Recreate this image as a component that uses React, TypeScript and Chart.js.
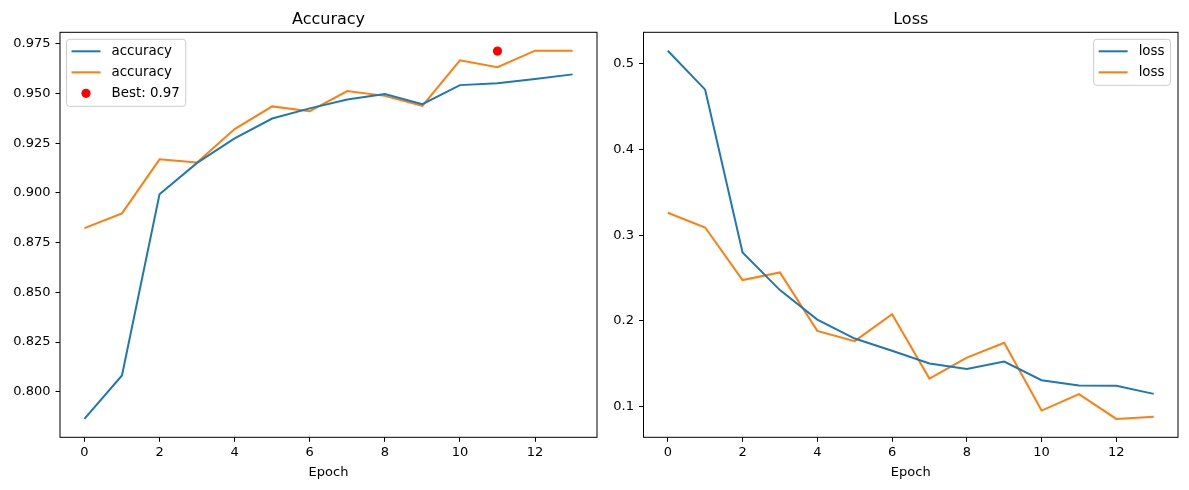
import { Chart, registerables } from "chart.js";
import { useEffect, useRef } from "react";

// Register the standard Chart.js components
Chart.register(...registerables);

Chart.defaults.font.family = "'DejaVu Sans', sans-serif";
Chart.defaults.color = "#000";

// Training history
const epochs = [0, 1, 2, 3, 4, 5, 6, 7, 8, 9, 10, 11, 12, 13];
const accuracy = [0.7864, 0.8082, 0.8993, 0.9151, 0.9274, 0.9374, 0.9425, 0.947, 0.9497, 0.9446, 0.9542, 0.9551, 0.9573, 0.9596];
const valAccuracy = [0.8823, 0.8897, 0.9169, 0.9153, 0.9321, 0.9435, 0.9411, 0.9512, 0.9488, 0.9438, 0.9667, 0.9632, 0.9715, 0.9715];
const loss = [0.5155, 0.47, 0.2799, 0.236, 0.2016, 0.1794, 0.1651, 0.1502, 0.144, 0.1526, 0.1308, 0.1245, 0.1242, 0.1148];
const valLoss = [0.3263, 0.3091, 0.2477, 0.2566, 0.1884, 0.1764, 0.2079, 0.1327, 0.1572, 0.1744, 0.0953, 0.1145, 0.0856, 0.088];
const bestEpoch = 11;
const bestValue = 0.9713;

// Tick labels
const epochTicks = [0, 2, 4, 6, 8, 10, 12];
const accuracyTicks = [0.8, 0.825, 0.85, 0.875, 0.9, 0.925, 0.95, 0.975];
const lossTicks = [0.1, 0.2, 0.3, 0.4, 0.5];

const BLUE = "#1f77b4";
const ORANGE = "#ff7f0e";

// Range with matplotlib's 5% margins
function padded(values: number[]) {
    const lo = Math.min(...values);
    const hi = Math.max(...values);
    const m = (hi - lo) * 0.05;
    return { min: lo - m, max: hi + m };
}

// Frame, title and an in-axes legend, like matplotlib draws them
const mplLook = {
    id: "mplLook",
    afterDraw(chart: any, _args: any, opts: any) {
        const { ctx, chartArea: a } = chart;
        ctx.save();

        // axes frame
        ctx.strokeStyle = "#000";
        ctx.lineWidth = 1;
        ctx.strokeRect(a.left, a.top, a.right - a.left, a.bottom - a.top);

        // title
        ctx.fillStyle = "#000";
        ctx.font = "16px 'DejaVu Sans'";
        ctx.textAlign = "center";
        ctx.textBaseline = "alphabetic";
        ctx.fillText(opts.title, (a.left + a.right) / 2, 24);

        // legend
        const sets = chart.data.datasets;
        ctx.font = "13.4px 'DejaVu Sans'";
        const textW = Math.max(...sets.map((d: any) => ctx.measureText(d.label).width));
        const w = 5 + 29 + 11 + textW + 6;
        const h = 12 + (sets.length - 1) * 21 + 13;
        const x = opts.legendSide === "left" ? a.left + 6.5 : a.right - 7.5 - w;
        const y = a.top + 7;

        ctx.beginPath();
        ctx.roundRect(x, y, w, h, 3);
        ctx.fillStyle = "rgba(255,255,255,0.8)";
        ctx.fill();
        ctx.strokeStyle = "#cccccc";
        ctx.stroke();

        ctx.textAlign = "left";
        ctx.textBaseline = "middle";
        sets.forEach((d: any, i: number) => {
            const ry = y + 12 + i * 21;
            if (d.showLine === false) {
                ctx.beginPath();
                ctx.arc(x + 5 + 14.5, ry, 4.6, 0, Math.PI * 2);
                ctx.fillStyle = d.pointBackgroundColor;
                ctx.fill();
            } else {
                ctx.beginPath();
                ctx.moveTo(x + 5, ry);
                ctx.lineTo(x + 34, ry);
                ctx.strokeStyle = d.borderColor;
                ctx.lineWidth = 2;
                ctx.stroke();
            }
            ctx.fillStyle = "#000";
            ctx.fillText(d.label, x + 45, ry + 0.5);
        });

        ctx.restore();
    },
};

function lineSet(label: string, values: number[], color: string) {
    return {
        label,
        data: epochs.map((e, i) => ({ x: e, y: values[i] })),
        borderColor: color,
        backgroundColor: color,
        borderWidth: 2,
        pointRadius: 0,
        tension: 0,
    };
}

function makeConfig(
    title: string,
    datasets: any[],
    yTicks: number[],
    yRange: { min: number; max: number },
    decimals: number,
    yWidth: number,
    padRight: number,
    legendSide: string
): any {
    const xRange = padded(epochs);
    return {
        type: "line",
        data: { datasets },
        plugins: [mplLook],
        options: {
            responsive: false,
            animation: false,
            layout: { padding: { top: 32.3, right: padRight, bottom: 0, left: 0 } },
            plugins: {
                legend: { display: false },
                tooltip: { enabled: false },
                mplLook: { title, legendSide },
            },
            scales: {
                x: {
                    type: "linear",
                    min: xRange.min,
                    max: xRange.max,
                    afterBuildTicks: (s: any) => {
                        s.ticks = epochTicks.map((v) => ({ value: v }));
                    },
                    afterFit: (s: any) => {
                        s.height = 490 - 437.3;
                    },
                    ticks: { font: { size: 13 }, color: "#000", padding: 3, callback: (v: number) => String(v), maxRotation: 0 },
                    grid: { drawOnChartArea: false, drawTicks: true, tickLength: 4.5, color: "#000" },
                    border: { display: false },
                    title: { display: true, text: "Epoch", font: { size: 13 }, color: "#000", padding: { top: 0, bottom: 10 } },
                },
                y: {
                    type: "linear",
                    min: yRange.min,
                    max: yRange.max,
                    afterBuildTicks: (s: any) => {
                        s.ticks = yTicks.map((v) => ({ value: v }));
                    },
                    afterFit: (s: any) => {
                        s.width = yWidth;
                    },
                    ticks: { font: { size: 13 }, color: "#000", padding: 5, callback: (v: number) => v.toFixed(decimals) },
                    grid: { drawOnChartArea: false, drawTicks: true, tickLength: 4.5, color: "#000" },
                    border: { display: false },
                },
            },
        },
    };
}

export default function App() {
    const accRef = useRef<HTMLCanvasElement | null>(null);
    const lossRef = useRef<HTMLCanvasElement | null>(null);

    useEffect(() => {
        const accChart = new Chart(
            accRef.current!,
            makeConfig(
                "Accuracy",
                [
                    lineSet("accuracy", accuracy, BLUE),
                    lineSet("accuracy", valAccuracy, ORANGE),
                    {
                        label: "Best: " + bestValue.toFixed(2),
                        data: [{ x: bestEpoch, y: bestValue }],
                        showLine: false,
                        pointRadius: 4.6,
                        pointBackgroundColor: "red",
                        pointBorderWidth: 0,
                        borderColor: "red",
                    },
                ],
                accuracyTicks,
                padded([...accuracy, ...valAccuracy, bestValue]),
                3,
                60,
                9,
                "left"
            )
        );
        const lossChart = new Chart(
            lossRef.current!,
            makeConfig(
                "Loss",
                [lineSet("loss", loss, BLUE), lineSet("loss", valLoss, ORANGE)],
                lossTicks,
                padded([...loss, ...valLoss]),
                1,
                37.5,
                11,
                "right"
            )
        );

        return () => {
            accChart.destroy();
            lossChart.destroy();
        };
    }, []);

    return (
        <div style={{ position: "fixed", left: 0, top: 0, width: 1189, height: 490, background: "#fff" }}>
            <canvas ref={accRef} width={606} height={490} style={{ position: "absolute", left: 0, top: 0 }} />
            <canvas ref={lossRef} width={583} height={490} style={{ position: "absolute", left: 606, top: 0 }} />
        </div>
    );
}
